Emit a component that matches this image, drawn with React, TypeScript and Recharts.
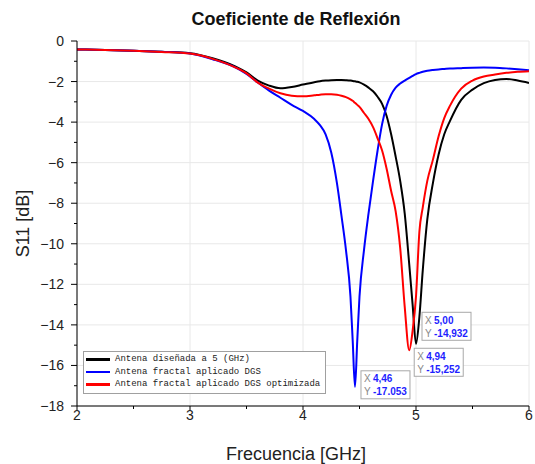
import React from 'react';
import { LineChart, Line, XAxis, YAxis, CartesianGrid, Legend, ReferenceDot, Label } from 'recharts';

// frequency samples (GHz), denser around the resonances
const FREQ = [
  2.0, 2.25, 2.5, 2.75, 3.0, 3.2, 3.4, 3.5, 3.6, 3.7, 3.8, 3.9, 4.0, 4.1, 4.15, 4.2, 4.25, 4.3, 4.34, 4.38,
  4.42, 4.44, 4.46, 4.48, 4.5, 4.54, 4.58, 4.62, 4.66, 4.7, 4.74, 4.78, 4.82, 4.86, 4.9, 4.94, 4.97, 5.0,
  5.03, 5.06, 5.1, 5.15, 5.2, 5.25, 5.3, 5.4, 5.5, 5.6, 5.7, 5.8, 5.9, 6.0,
];

// S11 [dB] - antena diseñada a 5 GHz
const S11_BASE = [
  -0.42, -0.44, -0.48, -0.53, -0.6, -0.85, -1.25, -1.55, -1.95, -2.2, -2.33, -2.27, -2.15, -2.03, -1.98, -1.95, -1.93, -1.92, -1.92, -1.93,
  -1.95, -1.97, -1.99, -2.01, -2.04, -2.15, -2.3, -2.48, -2.75, -3.1, -3.7, -4.6, -5.7, -6.9, -8.5, -11.0, -13.0, -14.932,
  -13.6, -11.3, -8.8, -7.0, -5.6, -4.6, -3.95, -2.9, -2.4, -2.08, -1.92, -1.87, -1.95, -2.07,
];

// S11 [dB] - antena fractal aplicado DGS
const S11_DGS = [
  -0.42, -0.44, -0.48, -0.53, -0.62, -0.9, -1.3, -1.62, -2.05, -2.45, -2.8, -3.15, -3.45, -3.85, -4.15, -4.6, -5.5, -7.0, -8.6, -10.3,
  -12.6, -14.8, -17.053, -14.8, -12.6, -10.3, -8.5, -6.9, -5.4, -4.1, -3.2, -2.65, -2.3, -2.1, -1.95, -1.82, -1.72, -1.63,
  -1.57, -1.52, -1.47, -1.43, -1.4, -1.38, -1.36, -1.34, -1.32, -1.31, -1.32, -1.35, -1.39, -1.44,
];

// S11 [dB] - antena fractal aplicado DGS optimizada
const S11_DGS_OPT = [
  -0.42, -0.44, -0.48, -0.54, -0.62, -0.88, -1.3, -1.6, -2.05, -2.35, -2.58, -2.7, -2.73, -2.68, -2.65, -2.63, -2.63, -2.65, -2.7, -2.77,
  -2.88, -2.95, -3.05, -3.15, -3.25, -3.55, -3.85, -4.25, -4.8, -5.4, -6.3, -7.4, -8.4, -10.2, -13.1, -15.252, -14.3, -12.6,
  -9.4, -8.2, -6.9, -5.85, -4.7, -3.8, -3.2, -2.35, -1.95, -1.75, -1.65, -1.57, -1.52, -1.49,
];

const X_TICKS = [2, 2.5, 3, 3.5, 4, 4.5, 5, 5.5, 6];
const Y_TICKS = [0, -1, -2, -3, -4, -5, -6, -7, -8, -9, -10, -11, -12, -13, -14, -15, -16, -17, -18];
const X_GRID = [2, 3, 4, 5, 6];
const Y_GRID = [0, -2, -4, -6, -8, -10, -12, -14, -16, -18];

// data cursors shown on the minima
const MARK_X = [5.0, 4.94, 4.46];
const MARK_Y = [-14.932, -15.252, -17.053];
const MARK_X_TEXT = ['5,00', '4,94', '4,46'];
const MARK_Y_TEXT = ['-14,932', '-15,252', '-17.053'];
const MARK_SERIES = ['base', 'opt', 'dgs'];

const data = FREQ.map((f, i) => ({ f, base: S11_BASE[i], dgs: S11_DGS[i], opt: S11_DGS_OPT[i] }));

const SANS = '"Liberation Sans", Arial, sans-serif';
const isMajor = (v: number, step: number) => Math.abs(v / step - Math.round(v / step)) < 1e-6;

const BottomTick = (props: any) => {
  const { x, y, payload } = props;
  const major = isMajor(payload.value, 1);
  return (
    <g>
      <line x1={x} y1={y} x2={x} y2={y + (major ? 4 : 3)} stroke="#000" />
      {major && (
        <text x={x} y={y + 14} textAnchor="middle" fontSize={14} fontFamily={SANS} fill="#222">
          {payload.value}
        </text>
      )}
    </g>
  );
};

const LeftTick = (props: any) => {
  const { x, y, payload } = props;
  const major = isMajor(payload.value, 2);
  const v = payload.value;
  return (
    <g>
      <line x1={x - (major ? 6 : 3)} y1={y} x2={x} y2={y} stroke="#000" />
      {major && (
        <text x={x - 13} y={y + 5} textAnchor="end" fontSize={14} fontFamily={SANS} fill="#222">
          {v < 0 ? '\u2212' + Math.abs(v) : v}
        </text>
      )}
    </g>
  );
};

const TopTick = (props: any) => {
  const { x, y, payload } = props;
  const major = isMajor(payload.value, 1);
  return <line x1={x} y1={y} x2={x} y2={y + (major ? 6 : 3)} stroke="#000" />;
};

const RightTick = (props: any) => {
  const { x, y } = props;
  return <line x1={x - 5} y1={y} x2={x} y2={y} stroke="#000" />;
};

const CALLOUT_OFFSET = [
  { dx: 6, dy: -31.5 },
  { dx: 5, dy: -2 },
  { dx: 6, dy: -16 },
];

const Callout = (props: any) => {
  const { viewBox, idx } = props;
  const cx = viewBox.x + viewBox.width / 2;
  const cy = viewBox.y + viewBox.height / 2;
  const left = cx + CALLOUT_OFFSET[idx].dx;
  const top = cy + CALLOUT_OFFSET[idx].dy;
  return (
    <g fontFamily={SANS} fontSize={10}>
      <rect x={left} y={top} width={49} height={28} fill="#fff" stroke="#a8a8a8" />
      <text x={left + 3} y={top + 11.5} fill="#888">X</text>
      <text x={left + 12} y={top + 11.5} fill="#1f1fff" fontWeight="bold">{MARK_X_TEXT[idx]}</text>
      <text x={left + 3} y={top + 24.5} fill="#888">Y</text>
      <text x={left + 12} y={top + 24.5} fill="#1f1fff" fontWeight="bold">{MARK_Y_TEXT[idx]}</text>
    </g>
  );
};

const LegendBox = (props: any) => {
  const { payload } = props;
  return (
    <div style={{ border: '1px solid #a0a0a0', background: '#fff', padding: '1px 5px 2px 2px' }}>
      {(payload || []).map((p: any) => (
        <div key={p.value} style={{ display: 'flex', alignItems: 'center', height: 12.5 }}>
          <span style={{ display: 'inline-block', width: 24, height: 2.5, background: p.color, marginRight: 5 }} />
          <span style={{ fontFamily: '"Liberation Mono", monospace', fontSize: 9, color: '#222', whiteSpace: 'nowrap' }}>
            {p.value}
          </span>
        </div>
      ))}
    </div>
  );
};

export default function App() {
  return (
    <div style={{ position: 'absolute', left: 0, top: 0, width: 535, height: 464, background: '#fff' }}>
      <div
        style={{
          position: 'absolute', left: 146, top: 10, width: 300, textAlign: 'center',
          fontFamily: SANS, fontWeight: 'bold', fontSize: 18, lineHeight: '18px', color: '#111',
        }}
      >
        Coeficiente de Reflexión
      </div>
      <LineChart width={535} height={464} data={data} margin={{ top: 41, right: 6, bottom: 0, left: 17 }}>
        <CartesianGrid stroke="#e8e8e8" horizontalValues={Y_GRID} verticalValues={X_GRID} />
        <XAxis
          dataKey="f"
          type="number"
          domain={[2, 6]}
          ticks={X_TICKS}
          interval={0}
          allowDataOverflow
          height={58}
          tickSize={0}
          tickMargin={0}
          tickLine={false}
          tick={<BottomTick />}
          axisLine={{ stroke: '#000' }}
        >
          <Label value="Frecuencia [GHz]" position="insideBottom" offset={4} dx={-7} fontSize={18} fontFamily={SANS} fill="#222" />
        </XAxis>
        <XAxis
          xAxisId="top"
          orientation="top"
          type="number"
          domain={[2, 6]}
          ticks={X_TICKS}
          interval={0}
          allowDataOverflow
          height={0}
          tickSize={0}
          tickMargin={0}
          tickLine={false}
          tick={<TopTick />}
          axisLine={{ stroke: '#000' }}
        />
        <YAxis
          type="number"
          domain={[-18, 0]}
          ticks={Y_TICKS}
          interval={0}
          allowDataOverflow
          width={60}
          tickSize={0}
          tickMargin={0}
          tickLine={false}
          tick={<LeftTick />}
          axisLine={{ stroke: '#000' }}
        >
          <Label value="S11 [dB]" position="insideLeft" angle={-90} offset={6} fontSize={18} fontFamily={SANS} fill="#222" style={{ textAnchor: 'middle' }} />
        </YAxis>
        <YAxis
          yAxisId="right"
          orientation="right"
          type="number"
          domain={[-18, 0]}
          ticks={Y_TICKS}
          interval={0}
          allowDataOverflow
          width={0}
          tickSize={0}
          tickMargin={0}
          tickLine={false}
          tick={<RightTick />}
          axisLine={{ stroke: '#000' }}
        />
        <Legend
          layout="vertical"
          align="center"
          verticalAlign="middle"
          wrapperStyle={{ left: 83, top: 351 }}
          content={<LegendBox />}
        />
        <Line type="monotone" dataKey="base" name="Antena diseñada a 5 (GHz)" stroke="#000000" strokeWidth={2} dot={false} activeDot={false} isAnimationActive={false} />
        <Line type="monotone" dataKey="dgs" name="Antena fractal aplicado DGS" stroke="#0000ff" strokeWidth={2} dot={false} activeDot={false} isAnimationActive={false} />
        <Line type="monotone" dataKey="opt" name="Antena fractal aplicado DGS optimizada" stroke="#ff0000" strokeWidth={2} dot={false} activeDot={false} isAnimationActive={false} />
        {MARK_X.map((mx, i) => (
          <ReferenceDot
            key={MARK_SERIES[i]}
            x={mx}
            y={MARK_Y[i]}
            r={1}
            fill="none"
            stroke="none"
            label={(p: any) => <Callout {...p} idx={i} />}
          />
        ))}
      </LineChart>
    </div>
  );
}
